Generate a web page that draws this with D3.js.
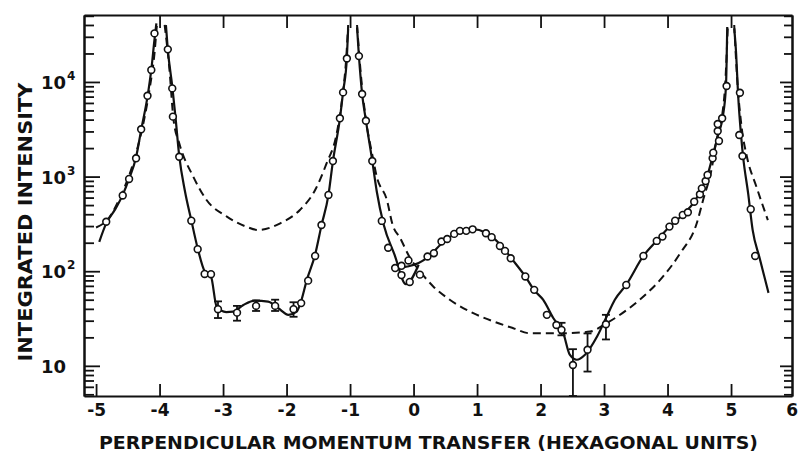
<!DOCTYPE html>
<html>
<head>
<meta charset="utf-8">
<script src="https://cdn.jsdelivr.net/npm/d3@7"></script>
<style>
body { margin: 0; background: #fff; }
svg { display: block; }
text { font-family: "DejaVu Sans", sans-serif; fill: #111; font-weight: bold; }
</style>
</head>
<body>
<svg id="chart" width="799" height="453"></svg>
<script>
// measured intensities (open circles), [momentum transfer, intensity]
var points = [
	[-4.84,333],[-4.58,632],[-4.48,944],[-4.37,1560],[-4.29,3160],[-4.19,7140],[-4.13,13400],[-4.08,32600],
	[-3.87,22100],[-3.80,8550],[-3.79,4300],[-3.69,1620],[-3.50,342],[-3.40,171],[-3.29,93.5],[-3.19,93],
	[-3.08,39.7],[-2.78,36.5],[-2.48,43],[-2.18,43],[-1.89,39.7],[-1.77,46],[-1.66,79.5],[-1.55,145],[-1.45,308],
	[-1.34,640],[-1.27,1460],[-1.16,4130],[-1.11,7760],[-1.05,17700],
	[-0.86,18750],[-0.81,7450],[-0.75,3890],[-0.65,1460],[-0.50,340],[-0.40,177],[-0.29,108],[-0.19,114],
	[-0.08,130],[-0.19,91],[-0.06,77],[0.10,92],[0.22,143],[0.32,155],[0.44,206],[0.53,219],[0.64,248],
	[0.73,267],[0.83,267],[0.93,277],[1.14,252],[1.23,229],[1.36,185],[1.44,164],[1.53,137],[1.76,88],[1.90,63.5],
	[2.10,34.6],[2.25,27],[2.33,24],[2.51,10.2],[2.74,14.8],[3.03,27.5],[3.35,71.6],[3.62,145],[3.83,209],
	[3.92,232],[4.03,296],[4.12,342],[4.24,393],[4.32,420],[4.42,543],[4.51,650],[4.54,751],[4.60,897],
	[4.63,1040],[4.71,1560],[4.72,1790],[4.81,2380],[4.79,3030],[4.79,3590],[4.86,4130],[4.93,9060],
	[5.14,7690],[5.13,2750],[5.18,1650],[5.31,452],[5.38,145]
];

// [x, low, high]
var errorBars = [
	[-3.08,32,48],[-2.78,30,43],[-2.48,38,49],[-2.18,38,50],[-1.89,33,47],
	[2.33,21,28.5],[2.51,4.8,15],[2.74,8.7,22],[3.03,19,34.6]
];

// solid curve, drawn in pieces between the peaks
var fitLeft = [[-4.95,204],[-4.84,320],[-4.70,450],[-4.58,640],[-4.48,950],[-4.37,1600],[-4.29,3100],
	[-4.19,7000],[-4.13,13500],[-4.08,28000],[-4.05,41600]];
var fitMiddle = [[-3.90,39800],[-3.87,22000],[-3.80,9000],[-3.75,4300],[-3.69,1650],[-3.60,700],[-3.50,345],
	[-3.40,175],[-3.29,100],[-3.19,88],[-3.10,42],[-2.95,37],[-2.84,37.4],[-2.68,44],[-2.50,49],[-2.29,47.7],
	[-2.13,40.6],[-1.97,34.6],[-1.84,37.4],[-1.79,44],[-1.68,81],[-1.55,150],[-1.45,305],[-1.34,640],
	[-1.27,1450],[-1.16,4100],[-1.11,7800],[-1.05,18000],[-1.03,36700]];
var fitDrop = [[-0.89,37700],[-0.86,18700],[-0.81,7500],[-0.75,3900],[-0.65,1460],[-0.58,700],[-0.47,310],
	[-0.30,150],[-0.12,73],[0.08,117]];
var fitHump = [[-0.29,107],[-0.10,112],[0.08,122],[0.23,142],[0.44,195],[0.64,245],[0.85,272],[0.93,278],
	[1.14,255],[1.30,212],[1.44,168],[1.53,140],[1.76,88],[1.90,63],[2.04,50],[2.20,32],[2.36,22],[2.46,13.1],
	[2.57,11.6],[2.70,13.1],[2.89,20.4],[3.04,33],[3.17,50],[3.35,72],[3.62,145],[3.83,210],[4.03,295],
	[4.24,395],[4.42,540],[4.54,750],[4.63,1040],[4.72,1750],[4.80,2800],[4.87,4300],[4.92,9000],[4.94,38000]];
var fitRight = [[5.05,36800],[5.08,20000],[5.11,7600],[5.16,2630],[5.19,1620],[5.27,660],[5.34,273],
	[5.45,138],[5.59,59]];

// dashed curve
var dashLeft = [[-5.00,290],[-4.82,350],[-4.60,650],[-4.40,1500],[-4.25,3800],[-4.15,9000],[-4.08,20000],[-4.04,42000]];
var dashMiddle = [[-3.92,40000],[-3.85,15000],[-3.78,4000],[-3.69,2250],[-3.47,1000],[-3.26,566],[-2.94,378],
	[-2.63,295],[-2.45,273],[-2.10,321],[-1.79,444],[-1.55,721],[-1.37,1380],[-1.21,2860],[-1.12,7000],
	[-1.06,18000],[-1.03,40000]];
var dashCenter = [[-0.89,40000],[-0.83,12000],[-0.75,4000],[-0.65,1700],[-0.58,1000],[-0.42,566],[-0.33,310],
	[-0.21,223],[-0.06,140],[0.10,100],[0.31,69],[0.57,50],[0.94,36],[1.26,29.4],[1.57,25],[1.83,22.1],
	[2.33,22.1],[2.78,23],[3.04,28.2],[3.36,39],[3.62,54],[3.93,88],[4.20,155],[4.46,321],[4.56,566],
	[4.70,1260],[4.77,2430],[4.85,4000],[4.91,10000],[4.95,40000]];
var dashRight = [[5.05,40000],[5.10,10000],[5.17,3200],[5.25,1620],[5.40,780],[5.58,347]];

var xTicks = [-5,-4,-3,-2,-1,0,1,2,3,4,5,6];
var xTopTicks = [-4,-3,-2,-1,0,1,2,3,4,5];
var yMajor = [10,100,1000,10000];
var yExponent = ['', '2', '3', '4'];

var svg = d3.select('#chart');
var plotLeft = 84, plotRight = 792, plotTop = 15, plotBottom = 396;

var x = d3.scaleLinear().domain([-5.19, 5.96]).range([plotLeft, plotRight]);
var y = d3.scaleLog().domain([4.8, 51000]).range([plotBottom, plotTop]);

// minor log ticks 2..9 in each decade
var yMinor = [];
[1, 10, 100, 1000, 10000].forEach(function(d){
	for (var k = 2; k <= 9; k++){
		var v = k * d;
		if (v >= 4.8 && v <= 51000) yMinor.push(v);
	}
});

svg.append('clipPath').attr('id', 'plot-clip')
	.append('rect').attr('x', plotLeft).attr('y', plotTop)
	.attr('width', plotRight - plotLeft).attr('height', plotBottom - plotTop);

var plot = svg.append('g').attr('clip-path', 'url(#plot-clip)');
var line = d3.line()
	.x(function(d){ return x(d[0]); })
	.y(function(d){ return y(d[1]); })
	.curve(d3.curveMonotoneX);

[dashLeft, dashMiddle, dashCenter, dashRight].forEach(function(seg){
	plot.append('path').attr('d', line(seg))
		.attr('fill', 'none').attr('stroke', '#111').attr('stroke-width', 2)
		.attr('stroke-dasharray', '8,5');
});
[fitLeft, fitMiddle, fitDrop, fitHump, fitRight].forEach(function(seg){
	plot.append('path').attr('d', line(seg))
		.attr('fill', 'none').attr('stroke', '#111').attr('stroke-width', 2.2);
});

// error bars
var bars = plot.append('g').attr('stroke', '#111').attr('stroke-width', 1.8);
errorBars.forEach(function(e){
	var cx = x(e[0]);
	bars.append('line').attr('x1', cx).attr('x2', cx).attr('y1', y(e[1])).attr('y2', y(e[2]));
	bars.append('line').attr('x1', cx - 4).attr('x2', cx + 4).attr('y1', y(e[1])).attr('y2', y(e[1]));
	bars.append('line').attr('x1', cx - 4).attr('x2', cx + 4).attr('y1', y(e[2])).attr('y2', y(e[2]));
});

plot.append('g').selectAll('circle')
	.data(points)
	.enter().append('circle')
	.attr('cx', function(d){ return x(d[0]); })
	.attr('cy', function(d){ return y(d[1]); })
	.attr('r', 3.4)
	.attr('fill', '#fff').attr('stroke', '#111').attr('stroke-width', 1.6);

// axes, all ticks point inwards
function styleAxis(g){
	g.selectAll('.domain').attr('stroke', '#111').attr('stroke-width', 2);
	g.selectAll('.tick line').attr('stroke', '#111').attr('stroke-width', 1.8);
}
var noLabel = function(){ return ''; };

svg.append('g').attr('transform', 'translate(' + plotLeft + ',0)')
	.call(d3.axisLeft(y).tickValues(yMajor).tickSizeInner(-16).tickSizeOuter(0).tickFormat(noLabel))
	.call(styleAxis);
svg.append('g').attr('transform', 'translate(' + plotLeft + ',0)')
	.call(d3.axisLeft(y).tickValues(yMinor).tickSizeInner(-10).tickSizeOuter(0).tickFormat(noLabel))
	.call(styleAxis);
svg.append('g').attr('transform', 'translate(' + plotRight + ',0)')
	.call(d3.axisRight(y).tickValues(yMajor).tickSizeInner(-12).tickSizeOuter(0).tickFormat(noLabel))
	.call(styleAxis);
svg.append('g').attr('transform', 'translate(' + plotRight + ',0)')
	.call(d3.axisRight(y).tickValues(yMinor).tickSizeInner(-8).tickSizeOuter(0).tickFormat(noLabel))
	.call(styleAxis);
svg.append('g').attr('transform', 'translate(0,' + plotTop + ')')
	.call(d3.axisTop(x).tickValues(xTopTicks).tickSizeInner(-13).tickSizeOuter(0).tickFormat(noLabel))
	.call(styleAxis);

var gx = svg.append('g').attr('transform', 'translate(0,' + plotBottom + ')')
	.call(d3.axisBottom(x).tickValues(xTicks).tickSizeInner(-12).tickSizeOuter(0).tickPadding(8)
		.tickFormat(function(d){ return d < 0 ? '-' + Math.abs(d) : String(d); }))
	.call(styleAxis);
gx.selectAll('.tick text').attr('font-size', 17).attr('font-family', '"DejaVu Sans", sans-serif')
	.attr('font-weight', 'bold').attr('fill', '#111');
// last label sits on the right frame, keep it inside the picture
var lastTick = gx.selectAll('.tick').filter(function(d){ return d === 6; });
lastTick.select('line').remove();
lastTick.select('text').attr('text-anchor', 'end').attr('x', 3);

// y tick labels with exponents
yMajor.forEach(function(v, i){
	svg.append('text').attr('x', 66).attr('y', y(v) + 7)
		.attr('text-anchor', 'end').attr('font-size', 18).text('10');
	if (yExponent[i]){
		svg.append('text').attr('x', 67).attr('y', y(v) - 2)
			.attr('font-size', 12).text(yExponent[i]);
	}
});

svg.append('text')
	.attr('x', 99).attr('y', 449)
	.attr('font-size', 18)
	.attr('textLength', 659).attr('lengthAdjust', 'spacingAndGlyphs')
	.text('PERPENDICULAR MOMENTUM TRANSFER (HEXAGONAL UNITS)');

svg.append('text')
	.attr('transform', 'translate(32,222) rotate(-90)')
	.attr('text-anchor', 'middle')
	.attr('font-size', 19)
	.attr('textLength', 279).attr('lengthAdjust', 'spacingAndGlyphs')
	.text('INTEGRATED INTENSITY');
</script>
</body>
</html>
